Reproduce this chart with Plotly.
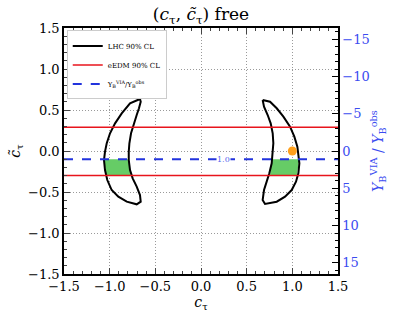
import plotly.graph_objects as go

# LHC 90% CL contours (crescents)
lhc_left_c = [-0.668, -0.777, -0.868, -0.941, -0.996, -1.032, -1.051, -1.062, -1.051, -1.026,
              -0.978, -0.905, -0.813, -0.704, -0.660, -0.668, -0.704, -0.748, -0.777, -0.791,
              -0.791, -0.784, -0.766, -0.737, -0.704, -0.679, -0.660, -0.668]
lhc_left_ct = [0.634, 0.581, 0.459, 0.337, 0.216, 0.094, -0.008, -0.110, -0.232, -0.354,
               -0.476, -0.557, -0.618, -0.650, -0.618, -0.537, -0.435, -0.333, -0.232, -0.110,
               -0.008, 0.094, 0.216, 0.337, 0.439, 0.521, 0.601, 0.634]

lhc_right_c = [0.675, 0.756, 0.829, 0.902, 0.975, 1.022, 1.055, 1.073, 1.077, 1.066, 1.040,
               0.993, 0.920, 0.829, 0.701, 0.675, 0.690, 0.719, 0.748, 0.774, 0.785, 0.792,
               0.785, 0.763, 0.730, 0.690, 0.675]
lhc_right_ct = [0.622, 0.601, 0.521, 0.419, 0.297, 0.175, 0.053, -0.069, -0.150, -0.272, -0.374,
                -0.476, -0.557, -0.618, -0.646, -0.598, -0.476, -0.374, -0.272, -0.150, -0.028, 0.094,
                0.216, 0.337, 0.439, 0.541, 0.622]

# eEDM 90% CL bounds on c~tau
edm_upper = 0.29
edm_lower = -0.30

# Y_B^VIA / Y_B^obs = 1.0 contour
yb_level = -0.10
yb_label = "1.0"

# overlap region (green)
green_left_c = [-1.062, -0.791, -0.770, -1.035, -1.062]
green_left_ct = [-0.10, -0.10, -0.30, -0.30, -0.10]
green_right_c = [0.774, 1.077, 1.048, 0.755, 0.774]
green_right_ct = [-0.10, -0.10, -0.30, -0.30, -0.10]

# benchmark point
bench_c = [1.0]
bench_ct = [0.0]

xr = [-1.5, 1.5]
serif = "DejaVu Serif"
blue_txt = "#3b4cf0"
grid = dict(showgrid=True, gridcolor="#9a9a9a", griddash="1px,2px", gridwidth=1, zeroline=False)

fig = go.Figure()

fig.add_trace(go.Scatter(x=green_left_c, y=green_left_ct, fill="toself", fillcolor="#66cc66",
                         line=dict(width=0), mode="lines", showlegend=False, hoverinfo="skip"))
fig.add_trace(go.Scatter(x=green_right_c, y=green_right_ct, fill="toself", fillcolor="#66cc66",
                         line=dict(width=0), mode="lines", showlegend=False, hoverinfo="skip"))

fig.add_trace(go.Scatter(x=lhc_left_c, y=lhc_left_ct, mode="lines", name="LHC 90% CL",
                         line=dict(color="black", width=2), legendgroup="lhc"))
fig.add_trace(go.Scatter(x=lhc_right_c, y=lhc_right_ct, mode="lines", name="LHC 90% CL",
                         line=dict(color="black", width=2), legendgroup="lhc",
                         showlegend=False))

fig.add_trace(go.Scatter(x=xr, y=[edm_upper, edm_upper], mode="lines", name="eEDM 90% CL",
                         line=dict(color="#e8141c", width=1.5), legendgroup="edm"))
fig.add_trace(go.Scatter(x=xr, y=[edm_lower, edm_lower], mode="lines", name="eEDM 90% CL",
                         line=dict(color="#e8141c", width=1.5), legendgroup="edm", showlegend=False))

fig.add_trace(go.Scatter(x=xr, y=[yb_level, yb_level], mode="lines",
                         name="Y<sub>B</sub><sup>VIA</sup>/Y<sub>B</sub><sup>obs</sup>",
                         line=dict(color="#2233dd", width=2, dash="dash")))

fig.add_trace(go.Scatter(x=bench_c, y=bench_ct, mode="markers", showlegend=False,
                         marker=dict(color="#ffa01c", size=9)))

# dummy trace for the right axis
fig.add_trace(go.Scatter(x=[None], y=[None], yaxis="y2", showlegend=False))

fig.add_annotation(x=0.25, y=yb_level, text=yb_label, showarrow=False, bgcolor="white",
                   font=dict(size=8, color="#5566ee", family=serif), borderpad=0)

fig.update_layout(
    width=403, height=321,
    margin=dict(l=64, r=65, t=28, b=47, autoexpand=False),
    plot_bgcolor="white", paper_bgcolor="white",
    font=dict(family=serif, color="black"),
    title=dict(text="(<i>c</i><sub>τ</sub>, <i>c̃</i><sub>τ</sub>) free", x=0.5, xref="paper",
               xanchor="center", y=0.955, yanchor="middle", font=dict(size=17)),
    xaxis=dict(range=xr, dtick=0.5, tick0=-1.5, tickformat=".1f", ticks="inside", ticklen=6,
               mirror="ticks", showline=True, linecolor="black", linewidth=1.5, automargin=False,
               minor=dict(ticks="inside", ticklen=3, dtick=0.1, showgrid=False),
               tickfont=dict(size=13), title=dict(text="<i>c</i><sub>τ</sub>", font=dict(size=14),
                                                  standoff=4), **grid),
    yaxis=dict(range=[-1.5, 1.5], dtick=0.5, tick0=-1.5, tickformat=".1f", ticks="inside", ticklen=6,
               showline=True, linecolor="black", linewidth=1.5, automargin=False,
               minor=dict(ticks="inside", ticklen=3, dtick=0.1, showgrid=False),
               tickfont=dict(size=13), title=dict(text="<i>c̃</i><sub>τ</sub>", font=dict(size=14),
                                                  standoff=4), **grid),
    yaxis2=dict(overlaying="y", side="right", range=[16.5, -16.5], dtick=5, tick0=-15,
                ticks="inside", ticklen=6, tickcolor="black", showline=True, linecolor="black",
                linewidth=1.5, showgrid=False, zeroline=False, automargin=False,
                minor=dict(ticks="inside", ticklen=3, dtick=1, tickcolor="black"),
                tickfont=dict(size=13, color=blue_txt),
                title=dict(text="<i>Y</i><sub>B</sub><sup>VIA</sup> / <i>Y</i><sub>B</sub><sup>obs</sup>",
                           font=dict(size=14, color=blue_txt), standoff=4)),
    legend=dict(x=0.01, y=0.99, xanchor="left", yanchor="top", bgcolor="white",
                bordercolor="#cccccc", borderwidth=1, font=dict(size=7), tracegroupgap=0,
                itemwidth=30),
)

fig.write_html("out.html", config={"displayModeBar": False},
               post_script="document.body.style.margin='0';")
